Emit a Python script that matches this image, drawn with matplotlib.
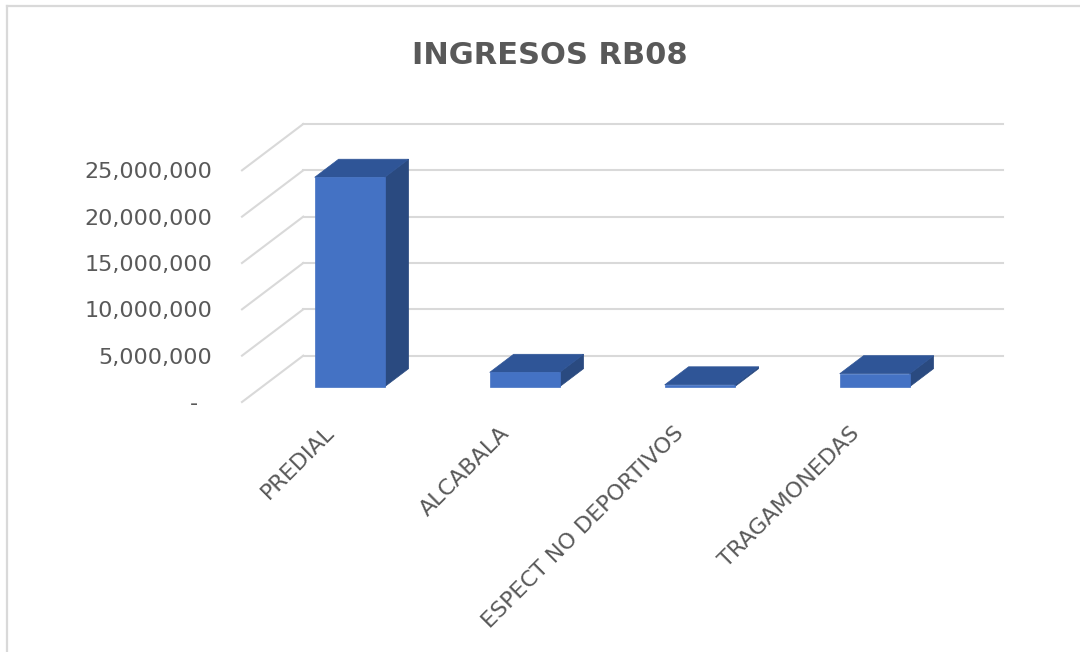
import matplotlib
matplotlib.use("Agg")
import matplotlib.pyplot as plt
from matplotlib.patches import Polygon
from matplotlib.lines import Line2D
from matplotlib.transforms import ScaledTranslation

# data
categories = ["PREDIAL", "ALCABALA", "ESPECT NO DEPORTIVOS", "TRAGAMONEDAS"]
values = [22.6e6, 1.55e6, 0.2e6, 1.4e6]
yticks = [0, 5e6, 10e6, 15e6, 20e6, 25e6]
ytick_labels = ["-  "] + ["{:,.0f}".format(v) for v in yticks[1:]]

# 3d look (oblique projection in data units)
DX = 0.35      # depth in category units
DY = 5e6       # depth in value units
d0, d1 = 0.33, 0.72
half_w = 0.2

front_c = "#4472C4"
top_c = "#2F5597"
side_c = "#2A4A80"
grid_c = "#D9D9D9"
text_c = "#595959"

fig = plt.figure(figsize=(10.8, 6.52), dpi=100)
ax = fig.add_axes([242/1080, 250/652, 4.35*175/1080, 278/652])
ax.set_xlim(-0.5, 3.5 + DX)
ax.set_ylim(0, 25e6 + DY)
ax.patch.set_visible(False)
for s in ax.spines.values():
    s.set_visible(False)

# back wall gridlines + side wall diagonals
for v in yticks:
    ax.plot([-0.5 + DX, 3.5 + DX], [v + DY, v + DY], color=grid_c, lw=1.5,
            clip_on=False, zorder=1)
    ax.plot([-0.5, -0.5 + DX], [v, v + DY], color=grid_c, lw=1.5,
            clip_on=False, zorder=1)

# bars
for i, v in enumerate(values):
    xl = i - half_w + d0*DX
    xr = i + half_w + d0*DX
    yb = d0*DY
    ddx = (d1 - d0)*DX
    ddy = (d1 - d0)*DY
    front = [(xl, yb), (xr, yb), (xr, yb + v), (xl, yb + v)]
    top = [(xl, yb + v), (xr, yb + v), (xr + ddx, yb + v + ddy), (xl + ddx, yb + v + ddy)]
    side = [(xr, yb), (xr + ddx, yb + ddy), (xr + ddx, yb + v + ddy), (xr, yb + v)]
    for pts, c in ((side, side_c), (top, top_c), (front, front_c)):
        ax.add_patch(Polygon(pts, closed=True, facecolor=c, edgecolor=c, lw=0.5,
                             clip_on=False, zorder=3))

ax.set_yticks(yticks)
ax.set_yticklabels(ytick_labels)
ax.tick_params(axis="y", length=0, pad=21.5, labelsize=16, labelcolor=text_c)
ax.set_xticks(range(len(categories)))
ax.set_xticklabels(categories, rotation=45, ha="right", va="center",
                   rotation_mode="anchor")
ax.tick_params(axis="x", length=0, pad=20, labelsize=16, labelcolor=text_c)
for lbl in ax.get_xticklabels():
    lbl.set_transform(lbl.get_transform() + ScaledTranslation(0.015, 0, fig.dpi_scale_trans))

fig.text(550/1080, 1 - 56/652, "INGRESOS RB08", ha="center", va="center",
         fontsize=22, fontweight="bold", color=text_c)

# chart frame (top and left edges visible)
fig.add_artist(Line2D([7/1080, 7/1080], [0, 1 - 6/652], color=grid_c, lw=1.6))
fig.add_artist(Line2D([7/1080, 1], [1 - 6/652, 1 - 6/652], color=grid_c, lw=1.6))

fig.savefig("out.png", dpi=100)
